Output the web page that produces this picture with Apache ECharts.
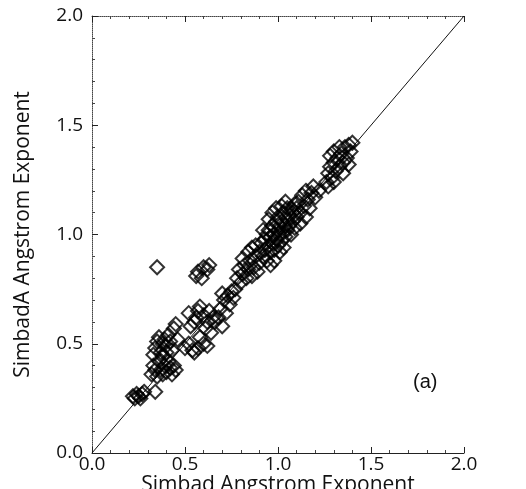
<!DOCTYPE html>
<html><head><meta charset="utf-8">
<script src="https://cdn.jsdelivr.net/npm/echarts@6/dist/echarts.min.js"></script>
<style>html,body{margin:0;padding:0;background:#fff}#c{width:526px;height:489px}</style>
</head><body><div id="c"></div>
<script>
var xTicks = ['0.0','0.5','1.0','1.5','2.0'];
var xName = 'Simbad Angstrom Exponent';
var yName = 'SimbadA Angstrom Exponent';
var panelLabel = '(a)';
var simbadX = [
0.22,0.23,0.24,0.25,0.26,0.27,0.28,0.34,
0.32,0.33,0.34,0.35,0.36,0.37,0.38,0.38,0.39,0.40,0.40,0.41,0.42,0.43,0.44,0.45,0.34,0.35,0.36,0.38,0.39,0.40,0.41,0.42,0.44,0.45,0.43,0.46,0.37,0.33,
0.35,
0.56,0.57,0.59,0.60,0.62,0.63,
0.50,0.52,0.54,0.55,0.57,0.58,0.60,0.62,0.53,0.55,0.56,0.57,0.58,0.60,0.61,0.62,0.63,0.64,0.65,0.52,
0.66,0.68,0.69,0.70,0.71,0.72,0.73,0.74,0.75,0.76,0.77,0.70,
0.78,0.79,0.80,0.81,0.82,0.83,0.84,0.85,0.86,0.87,0.88,0.89,0.90,0.84,0.86,0.88,0.90,0.81,
0.91,0.92,0.93,0.93,0.94,0.94,0.95,0.95,0.96,0.96,0.97,0.97,0.98,0.98,0.99,0.99,1.00,1.00,1.00,1.01,1.01,1.02,1.02,1.03,1.03,1.04,1.04,1.05,1.05,1.06,1.06,1.07,1.07,1.08,1.08,1.09,1.09,1.10,1.10,0.92,0.95,0.97,0.99,1.01,1.03,0.96,0.98,1.02,1.04,1.05,
1.11,1.12,1.13,1.14,1.15,1.16,1.17,1.18,1.19,1.20,1.22,1.12,1.15,
1.26,1.27,1.28,1.29,1.30,1.31,1.32,1.33,1.34,1.35,1.36,1.37,1.38,1.39,1.40,1.30,1.28,1.33,1.35,1.38,1.27,1.30
];
var simbadAY = [
0.26,0.25,0.27,0.26,0.25,0.27,0.28,0.28,
0.36,0.40,0.38,0.35,0.42,0.38,0.36,0.44,0.40,0.37,0.46,0.42,0.39,0.36,0.40,0.38,0.48,0.51,0.53,0.50,0.52,0.49,0.54,0.51,0.57,0.59,0.47,0.52,0.46,0.45,
0.85,
0.81,0.83,0.80,0.85,0.84,0.86,
0.48,0.50,0.47,0.46,0.48,0.53,0.50,0.49,0.58,0.60,0.62,0.65,0.67,0.63,0.57,0.60,0.65,0.55,0.62,0.64,
0.60,0.62,0.66,0.58,0.70,0.64,0.72,0.68,0.74,0.71,0.75,0.73,
0.80,0.84,0.78,0.82,0.86,0.80,0.84,0.88,0.81,0.85,0.90,0.83,0.87,0.92,0.94,0.95,0.92,0.89,
0.96,0.90,0.98,0.93,1.00,0.88,0.95,1.02,0.92,0.99,1.04,0.96,1.00,0.93,1.06,0.98,1.02,0.95,1.08,1.00,1.04,0.97,1.06,1.01,1.10,1.04,0.99,1.07,1.02,1.09,1.04,1.12,1.00,1.06,1.10,1.03,1.14,1.08,1.12,1.02,1.07,1.10,1.12,0.92,0.94,0.86,0.88,1.13,1.15,1.12,
1.15,1.10,1.18,1.13,1.20,1.16,1.12,1.19,1.22,1.17,1.20,1.05,1.08,
1.24,1.28,1.31,1.26,1.33,1.29,1.35,1.31,1.37,1.33,1.40,1.35,1.41,1.38,1.42,1.38,1.36,1.40,1.28,1.32,1.22,1.24
];
var pts = simbadX.map(function(v,i){return [v, simbadAY[i]];});
var diag = [[0,0],[2,2]];
var font = 'Open Sans';
var chart = echarts.init(document.getElementById('c'), null, {renderer:'canvas'});
var axisCommon = {
  type:'value', min:0, max:2, interval:0.5,
  splitLine:{show:false},
  axisTick:{show:true, inside:true, length:6, lineStyle:{color:'#222',width:1}},
  minorTick:{show:true, splitNumber:5, length:3, lineStyle:{color:'#444',width:1}},
  minorSplitLine:{show:false}
};
chart.setOption({
  animation:false,
  backgroundColor:'#fff',
  grid:{left:92, top:16, width:372, height:437, containLabel:false, outerBoundsMode:'none'},
  xAxis:[
    Object.assign({}, axisCommon, {
      position:'bottom',
      name:xName, nameLocation:'middle', nameGap:22, nameMoveOverlap:false,
      nameTextStyle:{fontFamily:font, fontSize:21, color:'#111', verticalAlign:'top'},
      axisLine:{show:true, onZero:false, lineStyle:{color:'#222', width:1}},
      axisLabel:{fontFamily:font, fontSize:19, color:'#111', margin:2,
        formatter:function(v){return xTicks[Math.round(v/0.5)];}}
    }),
    Object.assign({}, axisCommon, {
      position:'top',
      axisLine:{show:true, onZero:false, lineStyle:{color:'#444', width:1, type:'dotted'}},
      axisLabel:{show:false}
    })
  ],
  yAxis:[
    Object.assign({}, axisCommon, {
      position:'left',
      name:yName, nameLocation:'middle', nameGap:58, nameMoveOverlap:false,
      nameTextStyle:{fontFamily:font, fontSize:21, color:'#111'},
      axisLine:{show:true, onZero:false, lineStyle:{color:'#444', width:1, type:'dotted'}},
      axisLabel:{fontFamily:font, fontSize:19, color:'#111', margin:9,
        formatter:function(v){return xTicks[Math.round(v/0.5)];}}
    })
  ],
  series:[
    {type:'line', data:diag, symbol:'none', silent:true,
     lineStyle:{color:'#111', width:1}, z:1},
    {type:'scatter', data:pts, symbol:'diamond', symbolSize:[14,14],
     itemStyle:{color:'rgba(255,255,255,0)', borderColor:'#000', borderWidth:2}, z:2}
  ],
  graphic:[{type:'text', left:413, top:372,
    style:{text:panelLabel, font:'20px "Liberation Sans", Arial, sans-serif', fill:'#111'}}]
});
</script></body></html>
